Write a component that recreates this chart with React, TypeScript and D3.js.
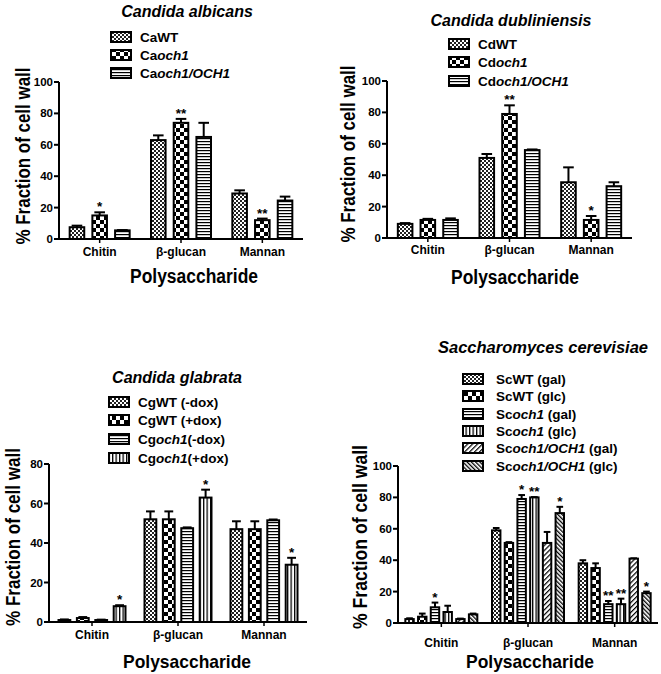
import React from "react";
import * as d3 from "d3";

const FONT = "'Liberation Sans', Arial, Helvetica, sans-serif";

const categories = ["Chitin", "β-glucan", "Mannan"];

// Candida albicans
const caTitle = "Candida albicans";
const caSeries = ["CaWT", "Ca_och1_", "Ca_och1/OCH1_"];
const caMeans = [[7.5, 63, 29], [15, 74, 12], [5.5, 65, 24.5]];
const caErrors = [[1, 3, 2], [2, 2.5, 1], [0.2, 9, 2.5]];
const caStars = [["", "", ""], ["*", "**", "**"], ["", "", ""]];

// Candida dubliniensis
const cdTitle = "Candida dubliniensis";
const cdSeries = ["CdWT", "Cd_och1_", "Cd_och1/OCH1_"];
const cdMeans = [[9, 51, 35.5], [11.5, 79, 11.5], [11.5, 56, 33]];
const cdErrors = [[0.5, 2.5, 9.5], [0.7, 5.5, 2.5], [1, 0.4, 2.5]];
const cdStars = [["", "", ""], ["", "**", "*"], ["", "", ""]];

// Candida glabrata
const cgTitle = "Candida glabrata";
const cgSeries = ["CgWT (-dox)", "CgWT (+dox)", "Cg_och1_(-dox)", "Cg_och1_(+dox)"];
const cgMeans = [[1, 52, 47], [2, 52, 47], [1, 47.5, 51.5], [8, 63, 29]];
const cgErrors = [[0.3, 4, 4], [0.5, 4, 4], [0.2, 0.4, 0.4], [0.5, 4, 3.5]];
const cgStars = [["", "", ""], ["", "", ""], ["", "", ""], ["*", "*", "*"]];

// Saccharomyces cerevisiae
const scTitle = "Saccharomyces cerevisiae";
const scSeries = [
  "ScWT (gal)",
  "ScWT (glc)",
  "Sc_och1_ (gal)",
  "Sc_och1_ (glc)",
  "Sc_och1/OCH1_ (gal)",
  "Sc_och1/OCH1_ (glc)",
];
const scMeans = [
  [2.5, 59, 38],
  [4, 51, 35],
  [10, 79, 12],
  [7, 80, 12],
  [2.5, 51, 41],
  [5.5, 70, 19],
];
const scErrors = [
  [0.5, 1.5, 2],
  [2, 0.5, 3],
  [3, 2.5, 2],
  [4, 0.2, 3.5],
  [0.3, 7, 0.2],
  [0.5, 4, 1],
];
const scStars = [
  ["", "", ""],
  ["", "", ""],
  ["*", "*", "**"],
  ["", "**", "**"],
  ["", "", ""],
  ["", "*", "*"],
];

const ticks100 = [0, 20, 40, 60, 80, 100];
const ticks80 = [0, 20, 40, 60, 80];

type Layout = {
  axisX: number;
  axisEnd: number;
  yTop: number;
  yBottom: number;
  groupWidth: number;
  innerPad: number;
  titleX: number;
  titleY: number;
  titleSize: number;
  legendX: number;
  legendTextX: number;
  legendRows: number[];
  yLabelX: number;
  yLabelY: number;
  yLabelLen: number;
  catY: number;
  xLabelX: number;
  xLabelY: number;
  xLabelLen: number;
  xLabelSize: number;
};

function Label({ text }: { text: string }) {
  const parts = text.split("_");
  return (
    <>
      {parts.map((p, i) =>
        p ? (
          <tspan key={i} fontStyle={i % 2 === 1 ? "italic" : "normal"}>
            {p}
          </tspan>
        ) : null
      )}
    </>
  );
}

function Panel(props: {
  title: string;
  series: string[];
  means: number[][];
  errors: number[][];
  stars: string[][];
  patterns: string[];
  yMax: number;
  yTicks: number[];
  L: Layout;
}) {
  const { title, series, means, errors, stars, patterns, yMax, yTicks, L } = props;
  const y = d3.scaleLinear().domain([0, yMax]).range([L.yBottom, L.yTop]);
  const x0 = d3.scaleBand<string>().domain(categories).range([L.axisX, L.axisEnd]).padding(0);
  const x1 = d3
    .scaleBand<number>()
    .domain(series.map((_, i) => i))
    .range([0, L.groupWidth])
    .paddingInner(L.innerPad)
    .paddingOuter(0);
  const bw = x1.bandwidth();
  const off = (x0.bandwidth() - L.groupWidth) / 2;

  return (
    <g fontFamily={FONT} fontWeight="bold" fill="#000">
      <text x={L.titleX} y={L.titleY} textAnchor="middle" fontSize={L.titleSize} fontStyle="italic">
        {title}
      </text>
      {series.map((s, i) => (
        <g key={s}>
          <rect
            x={L.legendX}
            y={L.legendRows[i] - 5}
            width={20}
            height={10}
            fill={`url(#${patterns[i]})`}
            stroke="#000"
            strokeWidth={2}
          />
          <text x={L.legendTextX} y={L.legendRows[i] + 5} fontSize={13.5}>
            <Label text={s} />
          </text>
        </g>
      ))}
      {series.map((s, i) =>
        categories.map((c, j) => {
          const v = means[i][j];
          const e = errors[i][j];
          const bx = (x0(c) as number) + off + (x1(i) as number);
          const top = y(v);
          const et = y(v + e);
          const cx = bx + bw / 2;
          const cap = bw * 0.32;
          return (
            <g key={s + c}>
              <line x1={cx} x2={cx} y1={top} y2={et} stroke="#000" strokeWidth={2} />
              <line x1={cx - cap} x2={cx + cap} y1={et} y2={et} stroke="#000" strokeWidth={2} />
              <rect
                x={bx + 1}
                y={top}
                width={bw - 2}
                height={Math.max(0, L.yBottom - top)}
                fill={`url(#${patterns[i]})`}
                stroke="#000"
                strokeWidth={2}
              />
              {stars[i][j] ? (
                <text x={cx} y={et - 1} textAnchor="middle" fontSize={13.5}>
                  {stars[i][j]}
                </text>
              ) : null}
            </g>
          );
        })
      )}
      <line x1={L.axisX} x2={L.axisX} y1={L.yTop} y2={L.yBottom + 1} stroke="#000" strokeWidth={2} />
      {yTicks.map((t) => (
        <g key={t}>
          <line x1={L.axisX - 5} x2={L.axisX} y1={y(t)} y2={y(t)} stroke="#000" strokeWidth={2} />
          <text x={L.axisX - 6} y={y(t) + 4} textAnchor="end" fontSize={11.5}>
            {t}
          </text>
        </g>
      ))}
      <line x1={L.axisX - 1} x2={L.axisEnd} y1={L.yBottom} y2={L.yBottom} stroke="#000" strokeWidth={2} />
      {categories.map((c) => {
        const cx = (x0(c) as number) + x0.bandwidth() / 2;
        return (
          <g key={c}>
            <line x1={cx} x2={cx} y1={L.yBottom} y2={L.yBottom + 4} stroke="#000" strokeWidth={1.5} />
            <text x={cx} y={L.catY} textAnchor="middle" fontSize={12}>
              {c}
            </text>
          </g>
        );
      })}
      <text
        transform={`translate(${L.yLabelX},${L.yLabelY}) rotate(-90)`}
        x={-L.yLabelLen / 2}
        fontSize={19.5}
        textLength={L.yLabelLen}
        lengthAdjust="spacingAndGlyphs"
      >
        % Fraction of cell wall
      </text>
      <text
        x={L.xLabelX - L.xLabelLen / 2}
        y={L.xLabelY}
        fontSize={L.xLabelSize}
        textLength={L.xLabelLen}
        lengthAdjust="spacingAndGlyphs"
      >
        Polysaccharide
      </text>
    </g>
  );
}

const L1: Layout = {
  axisX: 59, axisEnd: 303, yTop: 82, yBottom: 239, groupWidth: 62, innerPad: 0.27,
  titleX: 187, titleY: 17, titleSize: 16, legendX: 111, legendTextX: 140, legendRows: [37, 55, 73],
  yLabelX: 30, yLabelY: 156, yLabelLen: 177, catY: 256, xLabelX: 194, xLabelY: 283, xLabelLen: 128,
  xLabelSize: 20,
};
const L2: Layout = {
  axisX: 387, axisEnd: 632, yTop: 81, yBottom: 238, groupWidth: 62, innerPad: 0.27,
  titleX: 511, titleY: 26, titleSize: 16, legendX: 449, legendTextX: 478, legendRows: [44, 62, 81],
  yLabelX: 355, yLabelY: 154, yLabelLen: 177, catY: 254, xLabelX: 515, xLabelY: 284, xLabelLen: 128,
  xLabelSize: 20,
};
const L3: Layout = {
  axisX: 49, axisEnd: 307, yTop: 464, yBottom: 622, groupWidth: 69, innerPad: 0.25,
  titleX: 177, titleY: 383, titleSize: 16, legendX: 109, legendTextX: 138, legendRows: [402, 420, 439, 458],
  yLabelX: 20, yLabelY: 537, yLabelLen: 178, catY: 639, xLabelX: 187, xLabelY: 668, xLabelLen: 128,
  xLabelSize: 19,
};
const L4: Layout = {
  axisX: 398, axisEnd: 658, yTop: 466, yBottom: 623, groupWidth: 74, innerPad: 0.18,
  titleX: 543, titleY: 353, titleSize: 16.5, legendX: 463, legendTextX: 496,
  legendRows: [379, 396, 414, 431, 448, 466],
  yLabelX: 367, yLabelY: 537, yLabelLen: 184, catY: 647, xLabelX: 530, xLabelY: 668, xLabelLen: 128,
  xLabelSize: 19,
};

function Defs() {
  return (
    <defs>
      <pattern id="wt" width={4} height={4} patternUnits="userSpaceOnUse">
        <rect width={4} height={4} fill="#fff" />
        <rect width={2} height={2} fill="#222" />
        <rect x={2} y={2} width={2} height={2} fill="#222" />
      </pattern>
      <pattern id="check" width={8} height={8} patternUnits="userSpaceOnUse">
        <rect width={8} height={8} fill="#fff" />
        <rect width={4} height={4} fill="#000" />
        <rect x={4} y={4} width={4} height={4} fill="#000" />
      </pattern>
      <pattern id="hstripe" width={4} height={3} patternUnits="userSpaceOnUse">
        <rect width={4} height={3} fill="#fff" />
        <rect width={4} height={1.2} fill="#000" />
      </pattern>
      <pattern id="vstripe" width={3.5} height={4} patternUnits="userSpaceOnUse">
        <rect width={3.5} height={4} fill="#fff" />
        <rect width={1.3} height={4} fill="#000" />
      </pattern>
      <pattern id="diag1" width={3.5} height={3.5} patternUnits="userSpaceOnUse" patternTransform="rotate(45)">
        <rect width={3.5} height={3.5} fill="#fff" />
        <rect width={1.2} height={3.5} fill="#000" />
      </pattern>
      <pattern id="diag2" width={3} height={3} patternUnits="userSpaceOnUse" patternTransform="rotate(-45)">
        <rect width={3} height={3} fill="#fff" />
        <rect width={1.3} height={3} fill="#000" />
      </pattern>
    </defs>
  );
}

export default function App() {
  return (
    <svg
      width={661}
      height={674}
      style={{ position: "absolute", left: 0, top: 0, background: "#fff" }}
    >
      <Defs />
      <rect width={661} height={674} fill="#fff" />
      <Panel title={caTitle} series={caSeries} means={caMeans} errors={caErrors} stars={caStars}
        patterns={["wt", "check", "hstripe"]} yMax={100} yTicks={ticks100} L={L1} />
      <Panel title={cdTitle} series={cdSeries} means={cdMeans} errors={cdErrors} stars={cdStars}
        patterns={["wt", "check", "hstripe"]} yMax={100} yTicks={ticks100} L={L2} />
      <Panel title={cgTitle} series={cgSeries} means={cgMeans} errors={cgErrors} stars={cgStars}
        patterns={["wt", "check", "hstripe", "vstripe"]} yMax={80} yTicks={ticks80} L={L3} />
      <Panel title={scTitle} series={scSeries} means={scMeans} errors={scErrors} stars={scStars}
        patterns={["wt", "check", "hstripe", "vstripe", "diag1", "diag2"]} yMax={100} yTicks={ticks100} L={L4} />
    </svg>
  );
}
